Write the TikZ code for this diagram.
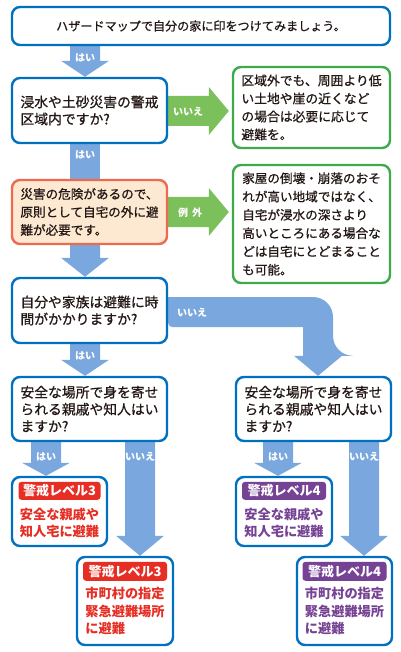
\documentclass[tikz,border=0pt]{standalone}
\usepackage{fontspec}
\setmainfont{Noto Sans CJK JP}[UprightFeatures={FakeBold=0.7}]
\usetikzlibrary{calc}
\pgfdeclarelayer{bg}
\pgfsetlayers{bg,main}
\definecolor{bblue}{RGB}{0,112,192}
\definecolor{ablue}{RGB}{122,168,222}
\definecolor{agreen}{RGB}{124,192,92}
\definecolor{gborder}{RGB}{62,170,74}
\definecolor{oborder}{RGB}{236,106,80}
\definecolor{peach}{RGB}{253,232,210}
\definecolor{lvred}{RGB}{230,46,36}
\definecolor{lvpurple}{RGB}{118,66,148}
\definecolor{ink}{RGB}{35,24,21}
\tikzset{
  qbox/.style={draw=bblue, line width=2.4pt, rounded corners=8pt, fill=white, align=left, text=ink, inner sep=0pt},
  gbox/.style={qbox, draw=gborder},
  obox/.style={qbox, draw=oborder, fill=peach},
  lvtag/.style={fill=#1, rounded corners=3pt, text=white, font=\fontsize{13}{13}\selectfont\bfseries, minimum height=18pt, inner sep=0pt},
  ctext/.style={text=#1, font=\fontsize{13.2}{17.5}\selectfont\bfseries, align=left, inner sep=0pt},
  alabel/.style={text=white, font=\fontsize{10}{10}\selectfont\bfseries, inner sep=0pt},
}
\newcommand\DownArrow[5]{% colour, x, from, to, head length
  \begin{pgfonlayer}{bg}
  \fill[#1] let \p1=(#3), \p2=(#4) in
    (#2pt-15pt,\y1) -- (#2pt+15pt,\y1) -- (#2pt+15pt,\y2+#5pt) -- (#2pt+24pt,\y2+#5pt)
    -- (#2pt,\y2) -- (#2pt-24pt,\y2+#5pt) -- (#2pt-15pt,\y2+#5pt) -- cycle;
  \end{pgfonlayer}}
\newcommand\RightArrow[5]{% colour, y, from, to, head length
  \begin{pgfonlayer}{bg}
  \fill[#1] let \p1=(#3), \p2=(#4) in
    (\x1,-#2pt+15pt) -- (\x2-3pt-#5pt,-#2pt+15pt) -- (\x2-3pt-#5pt,-#2pt+24pt)
    -- (\x2-3pt,-#2pt) -- (\x2-3pt-#5pt,-#2pt-24pt) -- (\x2-3pt-#5pt,-#2pt-15pt)
    -- (\x1,-#2pt-15pt) -- cycle;
  \end{pgfonlayer}}
\begin{document}
\begin{tikzpicture}[x=1pt,y=-1pt]
\useasboundingbox (0,0) rectangle (400,652);

% question / info boxes
\node[qbox, minimum width=378pt, minimum height=38pt, font=\fontsize{12.1}{15}\selectfont] (q1) at (201,26)
  {ハザードマップで自分の家に印をつけてみましょう。};
\node[qbox, minimum width=155pt, minimum height=65pt, font=\fontsize{13.8}{17}\selectfont] (q2) at (89.5,110.5)
  {浸水や土砂災害の警戒\\区域内ですか?};
\node[gbox, minimum width=157pt, minimum height=81pt, font=\fontsize{12.8}{18}\selectfont] (g1) at (311.5,107.5)
  {区域外でも、周囲より低\\い土地や崖の近くなど\\の場合は必要に応じて\\避難を。};
\node[obox, minimum width=155pt, minimum height=64pt, font=\fontsize{12.6}{18}\selectfont] (q3) at (89.5,212)
  {災害の危険があるので、\\原則として自宅の外に避\\難が必要です。};
\node[gbox, minimum width=157pt, minimum height=118pt, font=\fontsize{12.6}{18.3}\selectfont] (g2) at (311.5,224)
  {家屋の倒壊・崩落のおそ\\れが高い地域ではなく、\\自宅が浸水の深さより\\高いところにある場合な\\どは自宅にとどまること\\も可能。};
\node[qbox, minimum width=155pt, minimum height=65pt, font=\fontsize{13.8}{17}\selectfont] (q4) at (89.5,310.5)
  {自分や家族は避難に時\\間がかかりますか?};
\node[qbox, minimum width=155pt, minimum height=64pt, font=\fontsize{13.8}{17}\selectfont] (q5) at (89.5,409)
  {安全な場所で身を寄せ\\られる親戚や知人はい\\ますか?};
\node[qbox, minimum width=155pt, minimum height=64pt, font=\fontsize{13.8}{17}\selectfont] (q6) at (313.5,409)
  {安全な場所で身を寄せ\\られる親戚や知人はい\\ますか?};

% result boxes
\node[qbox, minimum width=95pt, minimum height=69pt] (b7) at (59.5,511.5) {};
\node[qbox, minimum width=96pt, minimum height=88pt] (b8) at (125,601) {};
\node[qbox, minimum width=96pt, minimum height=69pt] (b9) at (284,511.5) {};
\node[qbox, minimum width=95pt, minimum height=88pt] (b10) at (344.5,601) {};

\node[lvtag=lvred, minimum width=82pt] (t7) at ($(b7.north)+(0,15)$) {警戒レベル3};
\node[ctext=lvred] (x7) at ($(b7.north)+(0,47)$) {安全な親戚や\\知人宅に避難};
\node[lvtag=lvred, minimum width=84pt, minimum height=19pt] (t8) at ($(b8.north)+(0,15.5)$) {警戒レベル3};
\node[ctext=lvred] (x8) at ($(b8.north)+(0,55.5)$) {市町村の指定\\緊急避難場所\\に避難};
\node[lvtag=lvpurple, minimum width=84pt] (t9) at ($(b9.north)+(0,15)$) {警戒レベル4};
\node[ctext=lvpurple] (x9) at ($(b9.north)+(0,47)$) {安全な親戚や\\知人宅に避難};
\node[lvtag=lvpurple, minimum width=84pt, minimum height=19pt] (t10) at ($(b10.north)+(0,15.5)$) {警戒レベル4};
\node[ctext=lvpurple] (x10) at ($(b10.north)+(0,55.5)$) {市町村の指定\\緊急避難場所\\に避難};

% connectors
\DownArrow{ablue}{85}{q1.south}{q2.north}{16}
\begin{pgfonlayer}{bg}
\fill[ablue] let \p1=(q2.south), \p2=(q3.north) in (70pt,\y1) rectangle (100pt,\y2-4pt);
\fill[ablue] let \p1=(q4.east), \p2=(q6.north) in
  (\x1,-297pt) [rounded corners=20pt] -- (333pt,-297pt) -- (333pt,\y2+20pt)
  [sharp corners] -- (342pt,\y2+20pt) -- (318pt,\y2) -- (294pt,\y2+20pt) -- (303pt,\y2+20pt)
  -- (303pt,-327pt) [rounded corners=4pt] -- (\x1,-327pt) [sharp corners] -- cycle;
\end{pgfonlayer}
\DownArrow{ablue}{85}{q3.south}{q4.north}{19}
\DownArrow{ablue}{85}{q4.south}{q5.north}{16}
\DownArrow{ablue}{46}{q5.south}{b7.north}{13}
\DownArrow{ablue}{140}{q5.south}{b8.north}{20}
\DownArrow{ablue}{278}{q6.south}{b9.north}{13}
\DownArrow{ablue}{364}{q6.south}{b10.north}{20}
\RightArrow{agreen}{111}{q2.east}{g1.west}{20}
\RightArrow{agreen}{212}{q3.east}{g2.west}{20}

% connector labels
\node[alabel] (l1) at (85,58) {はい};
\node[alabel] (l2) at (85,155) {はい};
\node[alabel] (l3) at (188,112) {いいえ};
\node[alabel] (l4) at (190,213) {例\hspace{4pt}外};
\node[alabel] (l5) at (192,313) {いいえ};
\node[alabel] (l6) at (85,356) {はい};
\node[alabel] (l7) at (46,457) {はい};
\node[alabel] (l8) at (140,457) {いいえ};
\node[alabel] (l9) at (278,457) {はい};
\node[alabel] (l10) at (364,457) {いいえ};
\end{tikzpicture}
\end{document}
